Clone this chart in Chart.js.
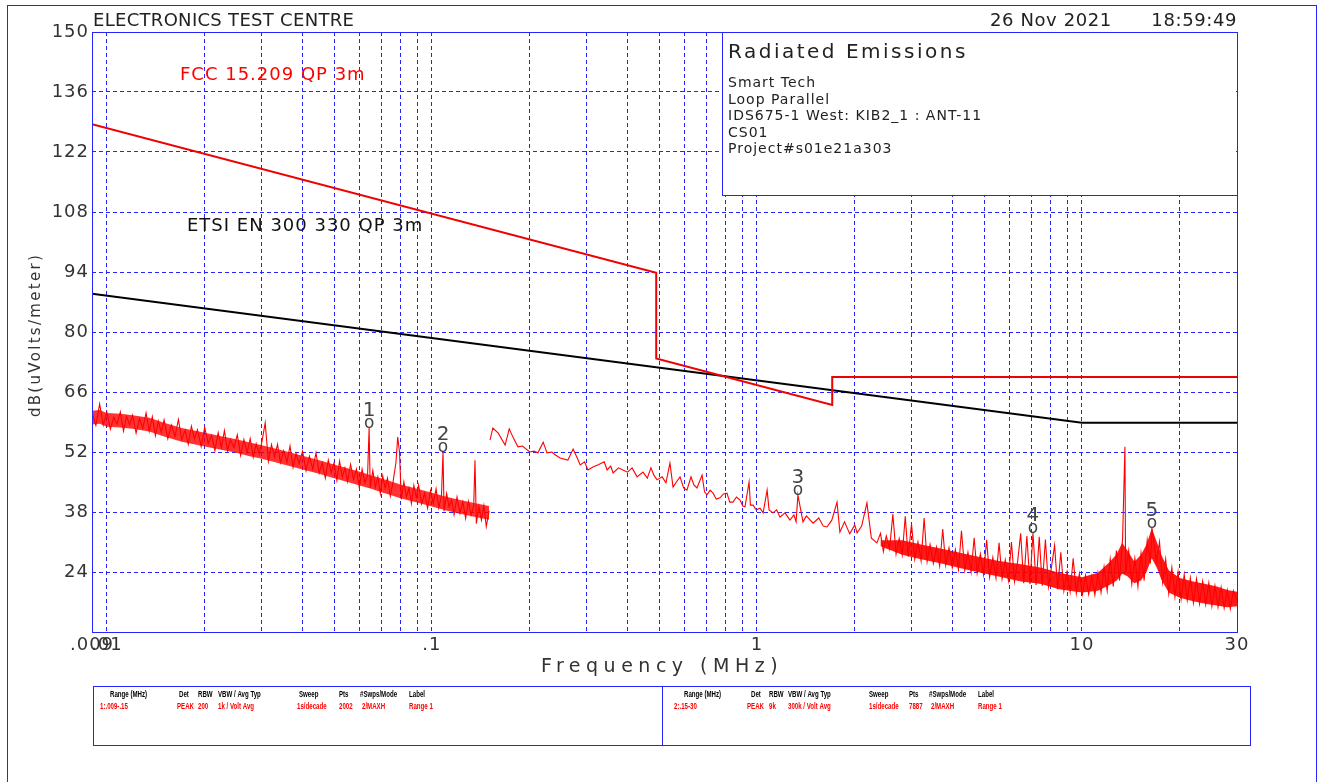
<!DOCTYPE html>
<html>
<head>
<meta charset="utf-8">
<title>Radiated Emissions</title>
<script src="https://cdn.jsdelivr.net/npm/chart.js@4.4.1/dist/chart.umd.min.js"></script>
<style>
  html, body { margin: 0; padding: 0; background: #fff; }
  #wrap { width: 1320px; height: 782px; }
</style>
</head>
<body>
<div id="wrap"><canvas id="emiChart" width="1320" height="782"></canvas></div>
<script>
// limit lines (MHz, dBuV/m)
const fccFreq = [0.009, 0.49, 0.49, 1.705, 1.705, 30];
const fccLimit = [128.5, 93.8, 73.8, 63.0, 69.5, 69.5];
const etsiFreq = [0.009, 10, 30];
const etsiLimit = [88.9, 58.8, 58.8];

// range 1 sweep, .009-.15 MHz (freq in kHz)
const range1FreqKHz = [
  9, 9.25, 9.5, 9.75, 10, 10.25, 10.5, 10.75, 11, 11.25, 11.5, 11.75,
  12, 12.3, 12.6, 12.9, 13.2, 13.5, 13.8, 14.1, 14.4, 14.7,
  15, 15.4, 15.8, 16.2, 16.6, 17, 17.4, 17.8, 18.2, 18.6,
  19, 19.5, 20, 20.5, 21, 21.5, 22, 22.5, 23, 23.5,
  24, 24.6, 25.2, 25.8, 26.4, 27, 27.6, 28.2, 28.8, 29.4,
  30, 30.7, 31.4, 32.1, 32.8, 33.5, 34.2, 35, 35.8, 36.6, 37.4, 38.2, 39,
  40, 41, 42, 43, 44, 45, 46, 47, 48, 49, 50, 51, 52, 53, 54, 55,
  56.2, 57.4, 58.6, 59.8, 61, 62.2, 63.4, 64.1,
  64.6, 65.8, 67, 68.2, 69.4, 70.6, 71.8, 73, 74.5, 76, 77.5, 78.5, 79.5,
  80.5, 82, 83.5, 85, 86.5, 88, 89.5,
  91, 93, 95, 97, 99, 101, 103, 105, 107, 108.2, 109, 111, 113, 115, 117,
  119.5, 122, 124.5, 127, 129.5, 132, 134.5, 135.7, 137, 139.5, 142, 144.5, 147, 150
];
const range1Level = [
  61.2, 58.2, 63.2, 58.3, 61.3, 57.3, 60.1, 58.5, 61.3, 56.9, 60.3, 58.4,
  60.6, 56.4, 59.8, 57.5, 61.1, 56.8, 60.2, 55.8, 59.2, 56.6,
  59.5, 55.1, 58.3, 55.6, 59.6, 54.9, 57.1, 53.8, 58.0, 55.1,
  57.2, 53.3, 57.7, 54.0, 55.9, 52.3, 56.5, 53.0, 57.0, 52.3,
  54.9, 53.0, 56.0, 51.2, 54.9, 51.8, 55.1, 50.8, 53.9, 51.5,
  54.4, 58.8, 49.8, 53.7, 50.8, 53.8, 49.5, 52.3, 49.6, 53.4, 48.4, 51.7, 49.2,
  52.2, 47.6, 51.0, 48.0, 51.8, 47.1, 49.5, 45.9, 50.1, 47.2, 49.5, 45.4, 49.9, 46.1, 48.3, 45.1,
  49.1, 45.6, 48.0, 43.7, 48.0, 44.8, 46.6, 57.6,
  43.6, 47.7, 43.8, 46.2, 42.3, 46.4, 43.5, 45.9, 41.7, 45.2, 49.5, 55.5, 52.0,
  41.0, 45.0, 41.5, 43.6, 40.0, 44.2, 41.3,
  44.3, 39.9, 42.4, 38.9, 43.0, 40.0, 43.4, 39.0, 41.7, 52.0, 38.2, 42.3, 39.2, 40.8, 37.4,
  41.5, 37.7, 40.4, 36.5, 40.5, 37.3, 39.5, 50.1, 35.3, 39.3, 36.1, 39.5, 34.6, 38.3
];
// noise band body of range 1 (kHz)
const band1FreqKHz = [9, 9.5, 10, 11, 12, 13.5, 15, 17, 20, 22.5, 25, 27.5, 30, 35, 40,
  45, 50, 55, 60, 65, 70, 75, 80, 90, 100, 110, 120, 135, 150];
const band1Upper = [61.6, 61.8, 61.1, 60.9, 60.6, 60.0, 58.8, 57.6, 56.5, 55.7, 55.0, 54.2, 53.6, 52.3, 51.1,
  50.1, 49.1, 48.2, 47.4, 46.6, 45.8, 45.1, 44.4, 43.4, 42.5, 41.6, 40.9, 40.1, 39.4];
const band1Lower = [58.4, 58.6, 57.9, 57.7, 57.4, 56.8, 55.6, 54.4, 53.3, 52.5, 51.8, 51.0, 50.4, 49.1, 47.9,
  46.9, 45.9, 45.0, 44.2, 43.4, 42.6, 41.9, 41.2, 40.2, 39.3, 38.4, 37.7, 36.9, 36.2];

// range 2 sweep, .15-30 MHz
const range2Freq = [
  0.151, 0.154, 0.160, 0.168, 0.173, 0.178, 0.184, 0.190, 0.200, 0.206,
  0.212, 0.220, 0.226, 0.234, 0.240, 0.248, 0.262, 0.272, 0.280, 0.286,
  0.295, 0.302, 0.313, 0.325, 0.339, 0.346, 0.355, 0.361, 0.375, 0.387,
  0.400, 0.413, 0.428, 0.446, 0.460, 0.472, 0.482, 0.493, 0.511, 0.525,
  0.540, 0.552, 0.565, 0.580, 0.595, 0.609, 0.627, 0.640, 0.654, 0.678,
  0.690, 0.702, 0.718, 0.733, 0.750, 0.770, 0.789, 0.809, 0.825, 0.844,
  0.865, 0.887, 0.905, 0.919, 0.946, 0.955, 0.973, 0.995, 1.022, 1.045,
  1.075, 1.090, 1.121, 1.150, 1.178, 1.220, 1.264, 1.300, 1.320, 1.337,
  1.386, 1.420, 1.489, 1.550, 1.600, 1.643, 1.700, 1.764, 1.800, 1.860,
  1.930, 2.000, 2.033, 2.100, 2.180, 2.250, 2.340,
  2.40, 2.45, 2.50, 2.56, 2.62, 2.68, 2.74, 2.80, 2.86, 2.92,
  2.99, 3.06, 3.13, 3.20, 3.27, 3.34, 3.41, 3.49, 3.57, 3.65,
  3.73, 3.81, 3.90, 3.99, 4.08, 4.17, 4.26, 4.36, 4.46, 4.56,
  4.66, 4.76, 4.87, 4.98, 5.09, 5.20, 5.32, 5.44, 5.56, 5.68,
  5.81, 5.94, 6.07, 6.20, 6.34, 6.48, 6.62, 6.77, 6.92, 7.07,
  7.23, 7.39, 7.55, 7.72, 7.89, 8.06, 8.24, 8.42, 8.61, 8.80,
  9.00, 9.20, 9.40, 9.61, 9.82, 10.04, 10.26, 10.49, 10.72, 10.96,
  11.20, 11.45, 11.70, 11.96, 12.22, 12.49, 12.77, 13.05, 13.34, 13.56,
  13.63, 13.93, 14.24, 14.55, 14.87, 15.20, 15.54, 15.88, 16.23, 16.42,
  16.96, 17.33, 17.71, 18.10, 18.50, 18.91, 19.33, 19.76, 20.19, 20.64,
  21.09, 21.56, 22.03, 22.52, 23.01, 23.52, 24.04, 24.57, 25.11, 25.66,
  26.23, 26.80, 27.39, 28.00, 28.61, 29.24, 30.00
];
const range2Level = [
  54.8, 57.6, 56.4, 53.6, 57.4, 55.3, 53.2, 53.4, 52.0, 52.2,
  51.8, 54.3, 51.8, 52.0, 51.3, 50.6, 50.1, 52.7, 50.6, 49.0,
  49.7, 47.8, 48.5, 49.0, 49.7, 47.8, 48.7, 47.1, 48.3, 47.8,
  47.3, 48.3, 46.2, 47.3, 45.9, 48.3, 46.6, 45.5, 46.2, 44.8,
  49.4, 43.8, 45.0, 46.2, 43.6, 43.1, 46.2, 44.3, 43.6, 46.6,
  42.7, 42.0, 43.1, 42.4, 41.0, 41.3, 42.2, 42.4, 40.3, 40.3,
  41.5, 40.8, 39.4, 39.2, 45.0, 39.6, 39.6, 38.5, 38.9, 37.8,
  43.1, 38.5, 37.8, 38.5, 36.8, 37.8, 36.1, 37.3, 35.7, 42.0,
  35.7, 37.1, 35.4, 36.6, 34.7, 34.5, 36.1, 40.3, 33.3, 35.7,
  32.9, 35.0, 33.1, 34.7, 40.1, 31.9, 30.8,
  33.0, 28.8, 32.4, 29.4, 37.5, 28.2, 31.8, 28.0, 37.0, 27.6,
  35.2, 27.0, 31.0, 26.6, 36.6, 26.4, 30.4, 26.0, 29.8, 25.4,
  34.0, 25.6, 29.6, 25.0, 29.2, 24.6, 33.6, 24.4, 28.6, 24.0,
  32.0, 23.8, 28.2, 23.4, 31.5, 22.8, 27.4, 22.6, 30.8, 22.4,
  26.8, 22.0, 31.0, 21.8, 26.4, 33.0, 21.4, 32.4, 21.2, 33.1,
  21.0, 32.2, 20.8, 31.6, 20.6, 25.2, 30.2, 20.0, 28.6, 19.6,
  24.0, 19.4, 27.2, 19.0, 23.6, 18.8, 23.2, 18.8, 23.0, 18.6,
  23.8, 19.2, 25.2, 19.6, 27.0, 20.6, 29.0, 22.0, 31.8, 53.2,
  23.6, 29.0, 21.2, 27.2, 20.6, 28.4, 22.0, 31.4, 26.0, 34.3,
  26.2, 31.0, 21.6, 27.0, 19.0, 25.0, 18.2, 24.0, 17.6, 23.4,
  17.4, 22.6, 16.8, 22.4, 16.6, 21.8, 16.4, 21.4, 16.0, 20.8,
  15.8, 20.4, 15.6, 19.8, 15.4, 19.6, 17.4
];
// noise band body of range 2 above 2.4 MHz
const band2Freq = [2.4, 2.8, 3.2, 3.7, 4.5, 5.5, 6.5, 7.5, 8.5, 10, 11.2, 12.2, 12.8, 13.3,
  13.8, 14.5, 15.2, 15.8, 16.4, 17.0, 17.6, 18.5, 20, 22, 24, 26, 28, 30];
const band2Upper = [31.4, 31.4, 30.4, 29.4, 28.0, 26.6, 25.8, 25.0, 23.8, 22.8, 23.8, 26.4, 28.2, 30.8,
  29.0, 26.4, 28.0, 30.4, 34.2, 31.0, 27.8, 24.4, 22.6, 21.8, 21.2, 20.6, 19.8, 19.4];
const band2Lower = [30.0, 28.0, 27.0, 26.0, 24.4, 23.0, 21.8, 21.2, 20.0, 19.2, 19.6, 21.0, 22.0, 23.6,
  23.0, 21.4, 22.0, 24.0, 27.2, 25.0, 22.0, 19.2, 18.0, 17.2, 16.6, 16.2, 15.8, 16.0];

// numbered markers
const markerFreq = [0.0641, 0.1082, 1.337, 7.07, 16.42];
const markerLevel = [57.6, 52.0, 42.0, 33.1, 34.3];

// axes
const xGridValues = [
  0.009, 0.01, 0.02, 0.03, 0.04, 0.05, 0.06, 0.07, 0.08, 0.09,
  0.1, 0.2, 0.3, 0.4, 0.5, 0.6, 0.7, 0.8, 0.9,
  1, 2, 3, 4, 5, 6, 7, 8, 9, 10, 20, 30
];
const xTickValues = [0.009, 0.01, 0.1, 1, 10, 30];
const xTickLabels = ['.009', '.01', '.1', '1', '10', '30'];
const yMin = 10, yMax = 150, yStep = 14;

const infoHeaders = ['Range (MHz)', 'Det', 'RBW', 'VBW / Avg Typ', 'Sweep', 'Pts', '#Swps/Mode', 'Label'];
const infoRange1 = ['1:.009-.15', 'PEAK', '200', '1k / Volt Avg', '1s/decade', '2002', '2/MAXH', 'Range 1'];
const infoRange2 = ['2:.15-30', 'PEAK', '9k', '300k / Volt Avg', '1s/decade', '7887', '2/MAXH', 'Range 1'];

const legendLines = ['Smart Tech', 'Loop Parallel', 'IDS675-1 West: KIB2_1 : ANT-11', 'CS01', 'Project#s01e21a303'];

const FONT = '"DejaVu Sans", "Liberation Sans", sans-serif';
const BLUE = '#2424ff';
const RED = '#ff0000';
const INK = '#333333';

function pairs(xs, ys) {
  return xs.map((x, i) => ({ x: x, y: ys[i] }));
}

function drawText(ctx, str, x, y, opts) {
  ctx.save();
  ctx.font = opts.font;
  ctx.fillStyle = opts.color || INK;
  ctx.textAlign = opts.align || 'left';
  ctx.textBaseline = 'alphabetic';
  ctx.letterSpacing = (opts.spacing || 0) + 'px';
  if (opts.squeeze) {
    ctx.translate(x, y);
    ctx.scale(opts.squeeze, 1);
    ctx.fillText(str, 0, 0);
  } else {
    ctx.fillText(str, x, y);
  }
  ctx.restore();
}

const decorations = {
  id: 'decorations',
  beforeDraw(chart) {
    chart.ctx.letterSpacing = '1px';
  },
  afterDraw(chart) {
    const ctx = chart.ctx;
    const area = chart.chartArea;
    const xs = chart.scales.x, ys = chart.scales.y;

    ctx.save();
    ctx.strokeStyle = BLUE;
    ctx.lineWidth = 1;
    // outer page frame
    ctx.strokeRect(7.5, 5.5, 1309, 800);
    // plot frame
    ctx.strokeRect(Math.round(area.left) + 0.5, Math.round(area.top) + 0.5,
      Math.round(area.right - area.left), Math.round(area.bottom - area.top));
    // legend box
    ctx.fillStyle = '#fff';
    ctx.fillRect(722, area.top + 1, area.right - 722 - 1, 163);
    ctx.strokeRect(722.5, Math.round(area.top) + 0.5, Math.round(area.right) - 722, 163);
    // info box
    ctx.strokeRect(93.5, 686.5, 1157, 59);
    ctx.beginPath();
    ctx.moveTo(662.5, 686.5);
    ctx.lineTo(662.5, 745.5);
    ctx.stroke();
    ctx.restore();

    // header
    drawText(ctx, 'ELECTRONICS TEST CENTRE', 93, 26, { font: '18px ' + FONT, spacing: 0.3, color: '#222' });
    drawText(ctx, '26 Nov 2021', 990, 26, { font: '18px ' + FONT, spacing: 0.6, color: '#222' });
    drawText(ctx, '18:59:49', 1237, 26, { font: '18px ' + FONT, spacing: 0.6, color: '#222', align: 'right' });

    // axis titles
    drawText(ctx, 'Frequency (MHz)', 662, 672, { font: '19px ' + FONT, spacing: 5.5, align: 'center' });
    ctx.save();
    ctx.translate(40, 335);
    ctx.rotate(-Math.PI / 2);
    drawText(ctx, 'dB(uVolts/meter)', 0, 0, { font: '15px ' + FONT, spacing: 2.3, align: 'center' });
    ctx.restore();

    // limit labels
    drawText(ctx, 'FCC 15.209 QP 3m', 180, 80, { font: '18px ' + FONT, spacing: 1, color: RED });
    drawText(ctx, 'ETSI EN 300 330 QP 3m', 187, 231, { font: '18px ' + FONT, spacing: 1, color: '#111' });

    // legend text
    drawText(ctx, 'Radiated Emissions', 728, 58, { font: '20px ' + FONT, spacing: 2.5, color: '#222' });
    legendLines.forEach((line, i) => {
      drawText(ctx, line, 728, 87 + i * 16.6, { font: '14px ' + FONT, spacing: 1, color: '#222' });
    });

    // markers
    markerFreq.forEach((f, i) => {
      const px = xs.getPixelForValue(f);
      const py = ys.getPixelForValue(markerLevel[i]);
      drawText(ctx, 'o', px, py, { font: '17px ' + FONT, color: '#444', align: 'center' });
      drawText(ctx, String(i + 1), px, py - 12, { font: '20px ' + FONT, color: '#444', align: 'center' });
    });

    // info box text
    const small = 'bold 9px "Liberation Sans", sans-serif';
    const leftCols = [110, 179, 198, 218, 299, 339, 360, 409];
    const leftVals = [100, 177, 198, 218, 297, 339, 362, 409];
    const rightCols = [684, 751, 769, 788, 869, 909, 929, 978];
    const rightVals = [674, 747, 769, 788, 869, 909, 931, 978];
    infoHeaders.forEach((h, i) => {
      drawText(ctx, h, leftCols[i], 697, { font: small, color: '#000', squeeze: 0.68 });
      drawText(ctx, h, rightCols[i], 697, { font: small, color: '#000', squeeze: 0.68 });
      drawText(ctx, infoRange1[i], leftVals[i], 709, { font: small, color: RED, squeeze: 0.68 });
      drawText(ctx, infoRange2[i], rightVals[i], 709, { font: small, color: RED, squeeze: 0.68 });
    });
  }
};

const lineStyle = { pointRadius: 0, tension: 0, fill: false };

const ctx = document.getElementById('emiChart').getContext('2d');
new Chart(ctx, {
  type: 'line',
  data: {
    // first dataset is painted last (on top)
    datasets: [
      Object.assign({ label: 'FCC 15.209 QP 3m', data: pairs(fccFreq, fccLimit), borderColor: '#f00000', borderWidth: 2 }, lineStyle),
      Object.assign({ label: 'ETSI EN 300 330 QP 3m', data: pairs(etsiFreq, etsiLimit), borderColor: '#000', borderWidth: 2 }, lineStyle),
      Object.assign({ label: 'Range 1', data: pairs(range1FreqKHz.map(f => f / 1000), range1Level), borderColor: RED, borderWidth: 1.1 }, lineStyle),
      Object.assign({ label: 'Range 2', data: pairs(range2Freq, range2Level), borderColor: RED, borderWidth: 1.1 }, lineStyle),
      Object.assign({ label: 'band1 upper', data: pairs(band1FreqKHz.map(f => f / 1000), band1Upper), borderWidth: 0, borderColor: 'rgba(0,0,0,0)' }, lineStyle),
      Object.assign({}, lineStyle, { label: 'band1 lower', data: pairs(band1FreqKHz.map(f => f / 1000), band1Lower), borderWidth: 0, borderColor: 'rgba(0,0,0,0)', fill: '-1', backgroundColor: 'rgba(255,0,0,0.8)' }),
      Object.assign({ label: 'band2 upper', data: pairs(band2Freq, band2Upper), borderWidth: 0, borderColor: 'rgba(0,0,0,0)' }, lineStyle),
      Object.assign({}, lineStyle, { label: 'band2 lower', data: pairs(band2Freq, band2Lower), borderWidth: 0, borderColor: 'rgba(0,0,0,0)', fill: '-1', backgroundColor: 'rgba(255,0,0,0.9)' })
    ]
  },
  options: {
    responsive: false,
    animation: false,
    events: [],
    layout: { padding: { left: 0, top: 32, right: 83, bottom: 110 } },
    plugins: {
      legend: { display: false },
      tooltip: { enabled: false }
    },
    scales: {
      x: {
        type: 'logarithmic',
        min: 0.009,
        max: 30,
        afterBuildTicks: function (scale) {
          scale.ticks = xGridValues.map(v => ({ value: v }));
        },
        afterFit: function (scale) {
          scale.height = 40;
        },
        ticks: {
          autoSkip: false,
          maxRotation: 0,
          minRotation: 0,
          padding: 3,
          color: INK,
          font: { family: FONT, size: 18 },
          callback: function (value) {
            const i = xTickValues.indexOf(value);
            return i >= 0 ? xTickLabels[i] : '';
          }
        },
        grid: { color: BLUE, lineWidth: 1, drawTicks: false },
        border: { display: false, dash: [4, 3] }
      },
      y: {
        min: yMin,
        max: yMax,
        afterFit: function (scale) {
          scale.width = 92;
        },
        ticks: {
          stepSize: yStep,
          padding: 3,
          color: INK,
          font: { family: FONT, size: 18 },
          callback: function (value) {
            return value === yMin ? '' : value;
          }
        },
        grid: { color: BLUE, lineWidth: 1, drawTicks: false },
        border: { display: false, dash: [4, 3] }
      }
    }
  },
  plugins: [decorations]
});
</script>
</body>
</html>
